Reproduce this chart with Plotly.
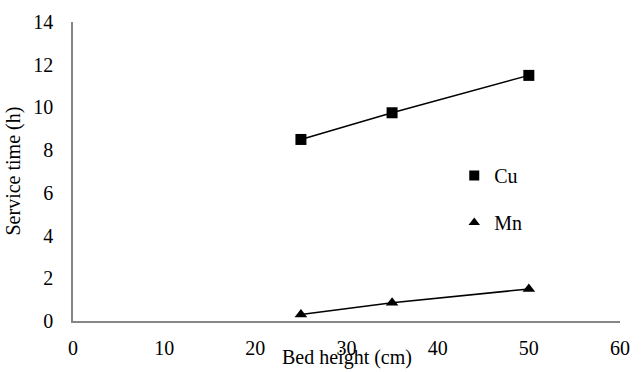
import plotly.graph_objects as go

# Bed height (cm) and breakthrough service time (h) for each metal
bed_height = [25, 35, 50]
cu_time = [8.5, 9.75, 11.5]
mn_time = [0.3, 0.85, 1.5]

x_ticks = [0, 10, 20, 30, 40, 50, 60]
y_ticks = [0, 2, 4, 6, 8, 10, 12, 14]

FONT = "Liberation Serif"
AXIS_GREY = "#868686"

fig = go.Figure()

# Data series: line with markers, legend keys drawn separately (marker only)
fig.add_trace(go.Scatter(
    x=bed_height, y=cu_time, mode="lines+markers", showlegend=False,
    line=dict(color="black", width=1.5),
    marker=dict(symbol="square", size=11, color="black"),
))
fig.add_trace(go.Scatter(
    x=bed_height, y=mn_time, mode="lines+markers", showlegend=False,
    line=dict(color="black", width=1.5),
    marker=dict(symbol="triangle-up", size=11, color="black"),
))
fig.add_trace(go.Scatter(
    x=[None], y=[None], mode="markers", name="Cu", legendgroup="cu",
    marker=dict(symbol="square", size=10, color="black"),
))
fig.add_trace(go.Scatter(
    x=[None], y=[None], mode="markers", name="Mn", legendgroup="mn",
    marker=dict(symbol="triangle-up", size=10, color="black"),
))

fig.update_layout(
    width=641, height=372,
    margin=dict(l=73, r=11, t=22, b=51),
    paper_bgcolor="white", plot_bgcolor="white",
    font=dict(family=FONT, size=20, color="#000000"),
    legend=dict(x=0.697, y=0.408, xanchor="left", yanchor="middle",
                traceorder="grouped", tracegroupgap=18,
                font=dict(family=FONT, size=20, color="#000000")),
    xaxis=dict(
        range=[0, 60], tickvals=x_ticks, showgrid=False, zeroline=False,
        showline=True, linecolor=AXIS_GREY, linewidth=1.5,
        ticks="outside", ticklen=8, tickcolor="white",
        tickfont=dict(family=FONT, size=20, color="#000000"),
    ),
    yaxis=dict(
        range=[0, 14], tickvals=y_ticks, showgrid=False, zeroline=False,
        showline=True, linecolor=AXIS_GREY, linewidth=1.5,
        ticks="outside", ticklen=14, tickcolor="white",
        tickfont=dict(family=FONT, size=20, color="#000000"),
    ),
    annotations=[
        dict(text="Bed height (cm)", xref="paper", yref="paper", x=0.5, y=0,
             yshift=-50, xanchor="center", yanchor="bottom", showarrow=False,
             font=dict(family=FONT, size=20, color="#000000")),
        dict(text="Service time (h)", xref="paper", yref="paper", x=0, y=0.5,
             xshift=-60, xanchor="center", yanchor="middle", textangle=-90,
             showarrow=False, font=dict(family=FONT, size=20, color="#000000")),
    ],
)

fig.write_html("out.html")
